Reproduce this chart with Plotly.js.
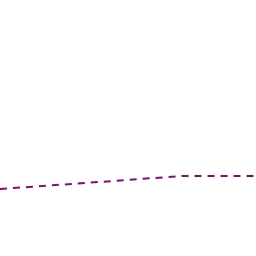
<!DOCTYPE html>
<html>
<head>
<meta charset="utf-8">
<script src="https://cdn.plot.ly/plotly-3.0.1.min.js"></script>
<style>html,body{margin:0;padding:0;background:#fff;}#chart{width:256px;height:256px;}</style>
</head>
<body>
<div id="chart"></div>
<script>
const xValues = [0, 64, 128, 183, 220, 256];
const yValues = [67, 71.8, 76.3, 80, 80, 80];

const trace = {
  x: xValues,
  y: yValues,
  type: 'scatter',
  mode: 'lines',
  line: {color: '#850a78', width: 2, dash: '7px,6px'},
  hoverinfo: 'skip'
};

const layout = {
  width: 256, height: 256,
  margin: {l: 0, r: 0, t: 0, b: 0},
  paper_bgcolor: '#ffffff',
  plot_bgcolor: '#ffffff',
  showlegend: false,
  xaxis: {range: [0, 256], visible: false, fixedrange: true},
  yaxis: {range: [0, 256], visible: false, fixedrange: true}
};

Plotly.newPlot('chart', [trace], layout, {displayModeBar: false, staticPlot: true});
</script>
</body>
</html>
